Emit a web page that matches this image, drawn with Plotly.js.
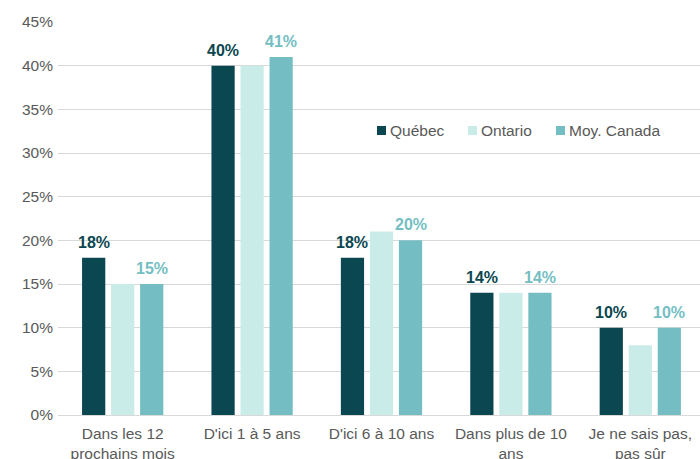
<!DOCTYPE html>
<html><head><meta charset="utf-8">
<script src="https://cdn.plot.ly/plotly-3.0.1.min.js"></script>
<style>html,body{margin:0;padding:0;overflow:hidden;background:#fff}</style>
</head><body>
<div id="chart" style="width:705px;height:459px"></div>
<script>
const categories = ["Dans les 12<br>prochains mois", "D'ici 1 à 5 ans", "D'ici 6 à 10 ans", "Dans plus de 10<br>ans", "Je ne sais pas,<br>pas sûr"];
const quebec = [18, 40, 18, 14, 10];
const ontario = [15, 40, 21, 14, 8];
const canada = [15, 41, 20, 14, 10];
const seriesNames = ["Québec", "Ontario", "Moy. Canada"];
const colors = ['#0b4750', '#c9ece9', '#74bec3'];

const fontFam = "Liberation Sans, Arial, sans-serif";
const W = 705, H = 459, L = 58, R = 0, T = 22, B = 44;
const bargap = 0.327, bargroupgap = 0.2;
const plotW = W - L - R, plotH = H - T - B;
const slot = plotW / categories.length * (1 - bargap) / 3;

const series = [quebec, ontario, canada];
const traces = series.map((vals, i) => ({
  type:'bar', name:seriesNames[i], x:categories, y:vals,
  marker:{color:colors[i], line:{width:0}}, hoverinfo:'none', showlegend:false
}));

// value labels for Québec (left slot) and Moy. Canada (right slot)
const annotations = [];
[[0, -1], [2, 1]].forEach(([si, side]) => {
  series[si].forEach((v, k) => {
    annotations.push({x:categories[k], y:v, xref:'x', yref:'y', text:v + '%', showarrow:false,
      xshift: side * slot, yanchor:'bottom', yshift:5,
      font:{family:fontFam, size:16, color:colors[si], weight:'bold'}});
  });
});

// custom legend
const legendX = [377, 468, 556];
const legendY = 130.5;
const shapes = [];
seriesNames.forEach((n, i) => {
  const x0 = (legendX[i] - L) / plotW, x1 = (legendX[i] + 9 - L) / plotW;
  const y0 = (H - B - (legendY + 4.5)) / plotH, y1 = (H - B - (legendY - 4.5)) / plotH;
  shapes.push({type:'rect', xref:'paper', yref:'paper', x0, x1, y0, y1, fillcolor:colors[i], line:{width:0}});
  annotations.push({xref:'paper', yref:'paper', x:(legendX[i] + 11 - L) / plotW, y:(H - B - legendY) / plotH,
    xanchor:'left', yanchor:'middle', text:n, showarrow:false,
    font:{family:fontFam, size:15.5, color:'#595959'}});
});

const layout = {
  width:W, height:H,
  margin:{l:L, r:R, t:T, b:B, pad:0},
  paper_bgcolor:'#fff', plot_bgcolor:'#fff',
  font:{family:fontFam, size:15, color:'#595959'},
  barmode:'group', bargap:bargap, bargroupgap:bargroupgap,
  showlegend:false,
  annotations, shapes,
  xaxis:{showgrid:false, showline:true, linecolor:'#d9d9d9', linewidth:1, ticks:'',
         ticklabelstandoff:4,
         tickfont:{family:fontFam, size:15.5, color:'#595959'}, automargin:false, fixedrange:true},
  yaxis:{range:[0,45], dtick:5, ticksuffix:'%', showgrid:true, gridcolor:'#d9d9d9', gridwidth:1,
         zeroline:false, showline:false, ticks:'', automargin:false, ticklabelstandoff:4,
         tickfont:{family:fontFam, size:15.5, color:'#595959'}, fixedrange:true}
};
Plotly.newPlot('chart', traces, layout, {displayModeBar:false, staticPlot:true});
</script>
</body></html>
